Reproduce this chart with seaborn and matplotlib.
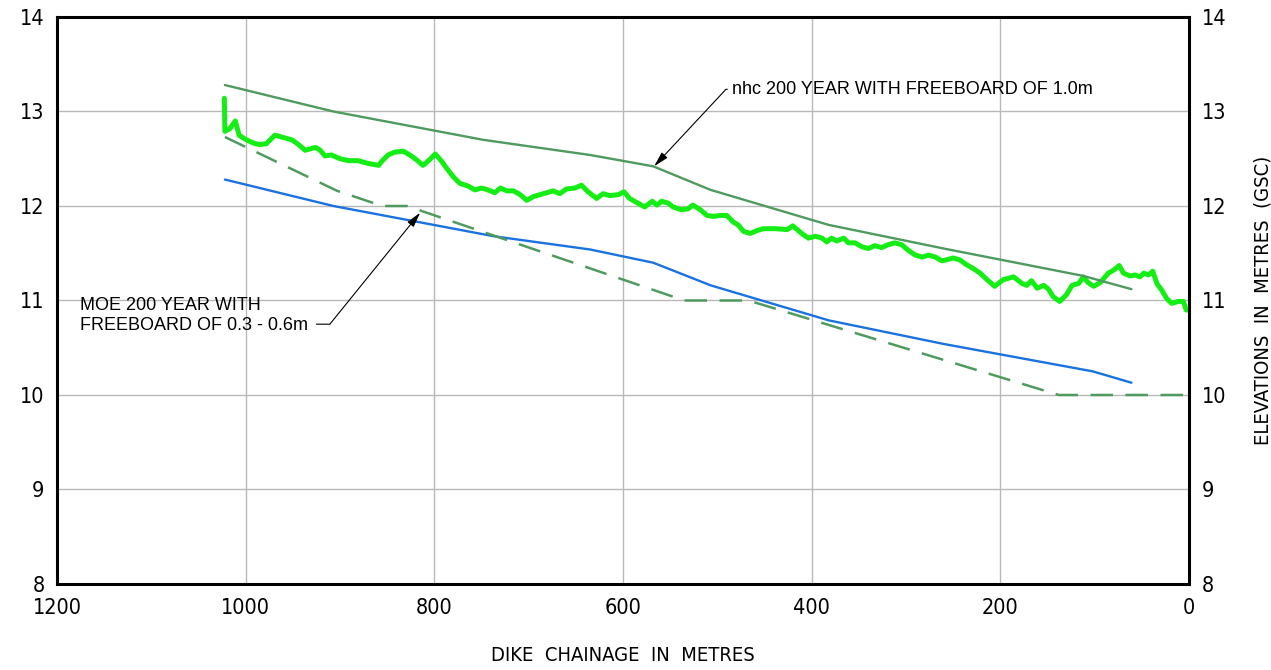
import matplotlib
matplotlib.use("Agg")
import matplotlib.pyplot as plt
from matplotlib import font_manager
import seaborn as sns

# gemessenes deichkronenprofil (hellgrün)
crest_x = [1022.6, 1022, 1016.6, 1011, 1007, 1001, 995, 990, 985, 978, 969, 962, 951, 944,
           937, 926, 921, 916, 909, 900, 891, 881, 870, 859, 856, 849, 842, 833, 826, 819,
           812, 805, 799, 792, 787, 780, 773, 764, 757, 750, 743, 736, 730, 723, 716, 709,
           702, 695, 688, 681, 674, 667, 660, 651, 644, 637, 628, 621, 614, 605, 599, 593,
           586, 577, 569, 564, 559, 552, 547, 538, 531, 526, 518, 511, 504, 497, 490, 483,
           478, 472, 465, 458, 451, 438, 426, 420, 410.6, 403.5, 396, 389, 384, 379, 373.5,
           366, 361, 354, 347, 340, 333, 326, 319, 312, 304.5, 297.5, 290, 283, 276, 269,
           262, 257, 250, 243, 236, 229, 221.5, 214, 206, 197, 186, 177, 172, 167, 161, 154,
           149, 144, 137, 130, 124, 117, 112, 107, 101, 94, 85.5, 80, 74, 69.6, 62.5, 57, 52,
           48, 43, 38.5, 34, 29, 23.6, 18.4, 11.4, 6, 3, 1]
crest_y = [13.14, 12.79, 12.82, 12.90, 12.75, 12.71, 12.68, 12.66, 12.65, 12.66, 12.75, 12.73,
           12.70, 12.65, 12.59, 12.62, 12.59, 12.53, 12.54, 12.50, 12.48, 12.48, 12.45, 12.43,
           12.47, 12.54, 12.57, 12.58, 12.54, 12.49, 12.43, 12.49, 12.55, 12.47, 12.40, 12.31,
           12.24, 12.21, 12.17, 12.19, 12.17, 12.14, 12.19, 12.16, 12.16, 12.12, 12.06, 12.10,
           12.12, 12.14, 12.16, 12.13, 12.18, 12.19, 12.22, 12.15, 12.08, 12.13, 12.11, 12.12,
           12.15, 12.08, 12.04, 11.99, 12.05, 12.01, 12.05, 12.03, 11.99, 11.96, 11.97, 12.01,
           11.96, 11.90, 11.89, 11.90, 11.90, 11.83, 11.80, 11.73, 11.71, 11.74, 11.76, 11.76,
           11.75, 11.79, 11.71, 11.66, 11.68, 11.66, 11.62, 11.66, 11.63, 11.66, 11.61, 11.61,
           11.57, 11.55, 11.58, 11.56, 11.59, 11.61, 11.59, 11.53, 11.48, 11.46, 11.48, 11.46,
           11.42, 11.43, 11.45, 11.43, 11.38, 11.34, 11.29, 11.22, 11.15, 11.22, 11.25, 11.18,
           11.16, 11.21, 11.13, 11.16, 11.12, 11.04, 10.99, 11.06, 11.16, 11.18, 11.25, 11.19,
           11.15, 11.19, 11.29, 11.32, 11.37, 11.29, 11.26, 11.27, 11.25, 11.29, 11.27, 11.31,
           11.18, 11.11, 11.02, 10.97, 10.99, 10.99, 10.90, 10.90]

# nhc 200 jahr mit freibord 1.0m
nhc_x = [1022, 907, 748, 635, 568, 507, 382, 260, 112, 61]
nhc_y = [13.28, 13.00, 12.70, 12.54, 12.42, 12.17, 11.80, 11.55, 11.26, 11.12]

# 200 jahr ohne freibord (blau)
flood_x = [1022, 907, 737, 635, 568, 507, 382, 260, 102, 61]
flood_y = [12.28, 12.00, 11.68, 11.54, 11.40, 11.16, 10.79, 10.54, 10.25, 10.13]

# MOE 200 jahr mit freibord 0.3 - 0.6m (gestrichelt)
moe_x = [1022, 903, 855, 829, 535, 467, 138, 0]
moe_y = [12.73, 12.16, 12.00, 12.00, 11.00, 11.00, 10.00, 10.00]

x_ticks = [1200, 1000, 800, 600, 400, 200, 0]
y_ticks = [8, 9, 10, 11, 12, 13, 14]

sns.set_style("white")

# schmale schrift für achsen, falls vorhanden
fonts = font_manager.fontManager.ttflist
names = {f.name for f in fonts}
narrow_fp = None
if "Liberation Sans Narrow" in names:
    narrow_fp = dict(family="Liberation Sans Narrow", stretch="normal")
    tick_size, lab_size = 17, 16
else:
    cond = [f for f in fonts if f.name == "DejaVu Sans" and f.stretch in ("condensed", "semi-condensed")
            and f.style == "normal"]
    if cond:
        narrow_fp = dict(family="DejaVu Sans", stretch="condensed")
        tick_size, lab_size = 15.5, 14.5
    else:
        narrow_fp = dict(family="DejaVu Sans", stretch="normal")
        tick_size, lab_size = 14, 13.5

plain = "Liberation Sans" if "Liberation Sans" in names else "DejaVu Sans"
plt.rcParams["font.family"] = [plain, "DejaVu Sans"]
for k in ["text.color", "axes.labelcolor", "xtick.color", "ytick.color"]:
    plt.rcParams[k] = "black"

fig = plt.figure(figsize=(12.71, 6.70), dpi=100)
ax = fig.add_axes([0.04485, 0.12836, 0.89064, 0.84627])

dark_green = "#4f9a5f"

sns.lineplot(x=crest_x, y=crest_y, ax=ax, color="#14ee14", lw=3.6,
             estimator=None, sort=False, zorder=2)
sns.lineplot(x=nhc_x, y=nhc_y, ax=ax, color=dark_green, lw=1.7,
             estimator=None, sort=False, zorder=3)
sns.lineplot(x=flood_x, y=flood_y, ax=ax, color="#1a72e0", lw=1.7,
             estimator=None, sort=False, zorder=3)
sns.lineplot(x=moe_x, y=moe_y, ax=ax, color=dark_green, lw=1.8,
             linestyle=(0, (9, 5)), estimator=None, sort=False, zorder=3)

ax.set_xlim(1200, 0)
ax.set_ylim(8, 14)
ax.set_xticks(x_ticks)
ax.set_yticks(y_ticks)
ax.grid(True, color="#b8b8b8", lw=1)
ax.set_axisbelow(True)

for side, s in ax.spines.items():
    s.set_visible(True)
    s.set_color("black")
    s.set_linewidth(2.2)

ax.tick_params(axis="both", length=0, labelsize=tick_size)
ax.tick_params(axis="x", pad=10)
ax.tick_params(axis="y", pad=9, labelleft=True, labelright=True)
for lab in ax.get_xticklabels() + ax.get_yticklabels():
    lab.set_family(narrow_fp["family"])
    lab.set_stretch(narrow_fp["stretch"])

ax.set_xlabel("DIKE  CHAINAGE  IN  METRES", fontsize=lab_size, labelpad=20, **narrow_fp)
ax.yaxis.set_label_position("right")
ax.set_ylabel("ELEVATIONS  IN  METRES  (GSC)", fontsize=lab_size, labelpad=20, **narrow_fp)

# beschriftungen mit pfeil
ax.annotate("nhc 200 YEAR WITH FREEBOARD OF 1.0m", xy=(567, 12.42), xytext=(484.5, 13.235),
            fontsize=13, ha="left", va="center", zorder=5,
            arrowprops=dict(arrowstyle="-|>,head_length=0.7,head_width=0.18", color="black",
                            lw=0.8, relpos=(0, 0.5), shrinkA=1, shrinkB=0,
                            connectionstyle="angle,angleA=0,angleB=47,rad=0"))
ax.annotate("MOE 200 YEAR WITH\nFREEBOARD OF 0.3 - 0.6m", xy=(815, 11.93), xytext=(1176, 10.84),
            fontsize=13, ha="left", va="center", linespacing=1.25, zorder=5,
            arrowprops=dict(arrowstyle="-|>,head_length=0.7,head_width=0.18", color="black",
                            lw=0.8, relpos=(1, 0.27), shrinkA=4, shrinkB=0,
                            connectionstyle="angle,angleA=0,angleB=51,rad=0"))

fig.savefig("out.png", dpi=100)
